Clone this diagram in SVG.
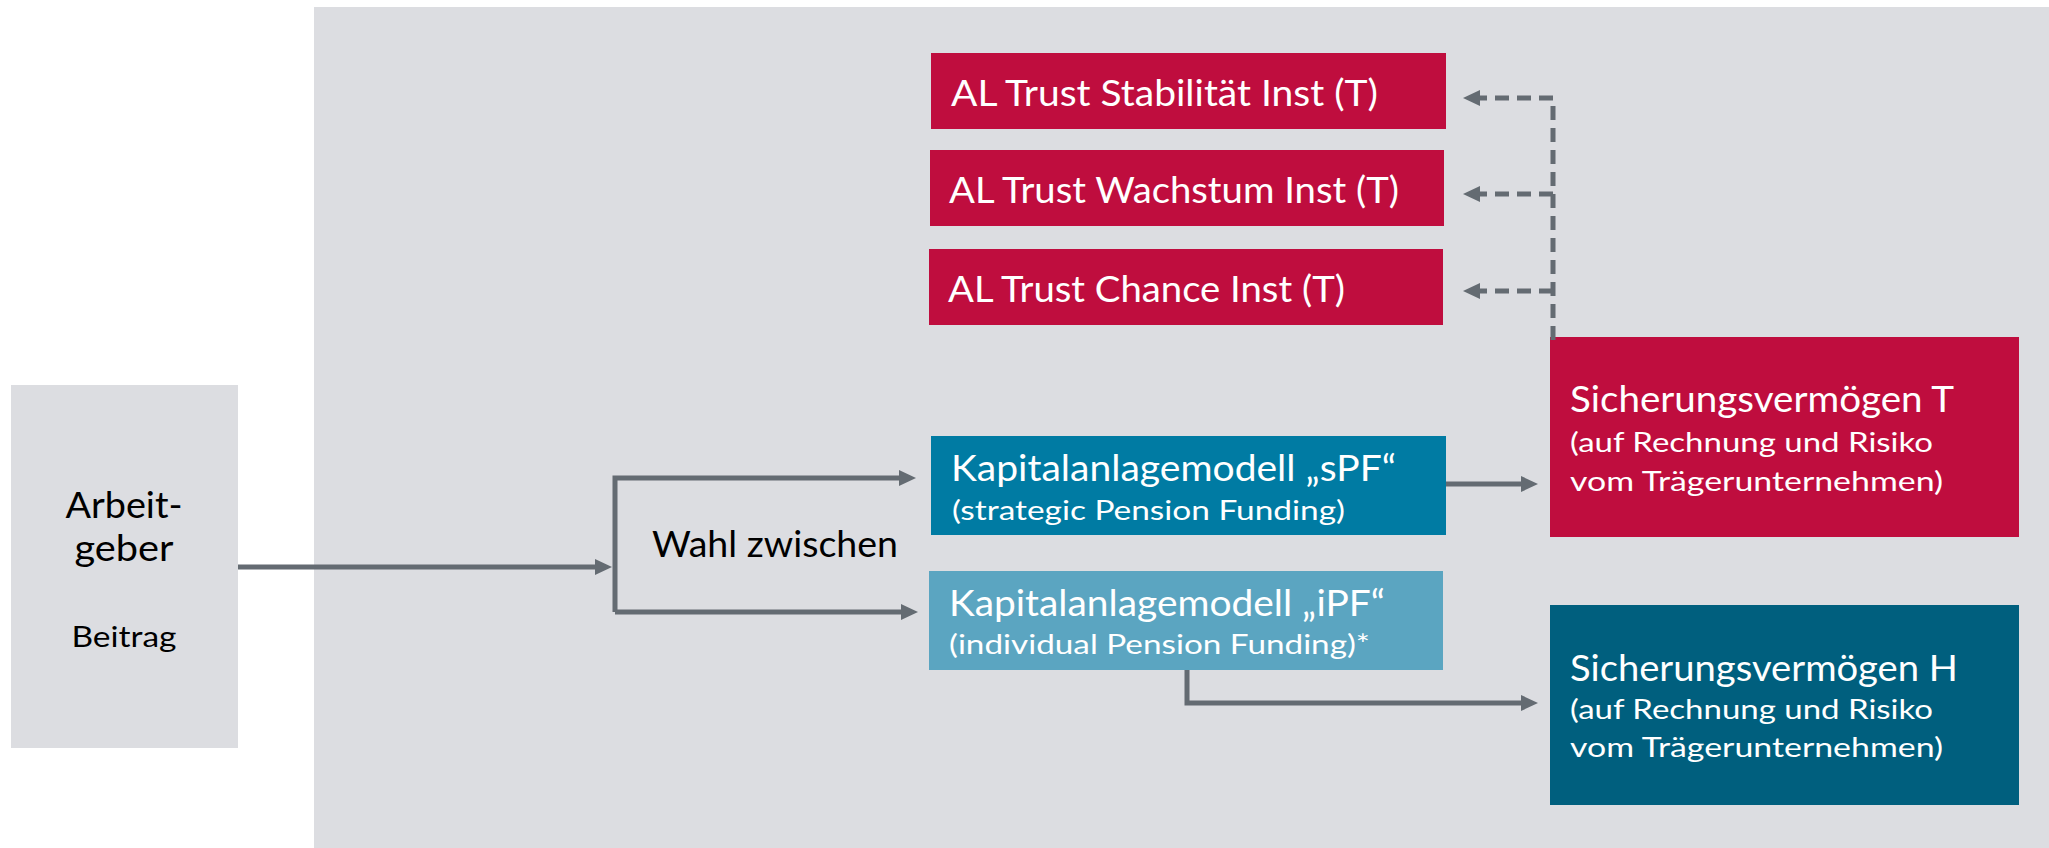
<svg xmlns="http://www.w3.org/2000/svg" width="2049" height="848" viewBox="0 0 2049 848">
<style>
.t{font-family:Lato,"Open Sans","Liberation Sans",sans-serif;}
.w{fill:#ffffff;}
.k{fill:#000000;}
.big{font-size:36px;}
.sm{font-size:27px;}
.con{fill:none;stroke:#646B72;stroke-width:5;}
.dash{stroke-dasharray:14 8;}
</style>
<defs>
<marker id="ah" markerUnits="userSpaceOnUse" markerWidth="17" markerHeight="16" refX="0" refY="8" orient="auto">
<path d="M0,0 L17,8 L0,16 z" fill="#646B72"/>
</marker>
</defs>
<rect x="314" y="7" width="1735" height="841" fill="#DCDDE1"/>
<g id="arbeitgeber">
<rect x="11" y="385" width="227" height="363" fill="#DCDDE1"/>
<text class="t k big" x="124" y="518" text-anchor="middle" textLength="117" lengthAdjust="spacingAndGlyphs">Arbeit-</text>
<text class="t k big" x="124" y="561" text-anchor="middle" textLength="99" lengthAdjust="spacingAndGlyphs">geber</text>
<text class="t k" style="font-size:29px" x="124" y="647" text-anchor="middle" textLength="105" lengthAdjust="spacingAndGlyphs">Beitrag</text>
</g>
<g id="wahl">
<text class="t k big" x="652" y="557" textLength="246" lengthAdjust="spacingAndGlyphs">Wahl zwischen</text>
</g>
<g id="stabilitaet">
<rect x="931" y="53" width="515" height="76" fill="#BF0D3E"/>
<text class="t w big" x="951" y="106" textLength="427" lengthAdjust="spacingAndGlyphs">AL Trust Stabilität Inst (T)</text>
</g>
<g id="wachstum">
<rect x="930" y="150" width="514" height="76" fill="#BF0D3E"/>
<text class="t w big" x="949" y="203" textLength="450" lengthAdjust="spacingAndGlyphs">AL Trust Wachstum Inst (T)</text>
</g>
<g id="chance">
<rect x="929" y="249" width="514" height="76" fill="#BF0D3E"/>
<text class="t w big" x="948" y="302" textLength="397" lengthAdjust="spacingAndGlyphs">AL Trust Chance Inst (T)</text>
</g>
<g id="spf">
<rect x="931" y="436" width="515" height="99" fill="#007BA3"/>
<text class="t w big" x="951" y="481" textLength="445" lengthAdjust="spacingAndGlyphs">Kapitalanlagemodell „sPF“</text>
<text class="t w sm" x="952" y="520" textLength="393" lengthAdjust="spacingAndGlyphs">(strategic Pension Funding)</text>
</g>
<g id="ipf">
<rect x="929" y="571" width="514" height="99" fill="#5BA5C1"/>
<text class="t w big" x="949" y="616" textLength="436" lengthAdjust="spacingAndGlyphs">Kapitalanlagemodell „iPF“</text>
<text class="t w sm" x="949" y="654" textLength="421" lengthAdjust="spacingAndGlyphs">(individual Pension Funding)*</text>
</g>
<g id="sichT">
<rect x="1550" y="337" width="469" height="200" fill="#BF0D3E"/>
<text class="t w big" x="1570" y="412" textLength="384" lengthAdjust="spacingAndGlyphs">Sicherungsvermögen T</text>
<text class="t w sm" x="1570" y="452" textLength="363" lengthAdjust="spacingAndGlyphs">(auf Rechnung und Risiko</text>
<text class="t w sm" x="1570" y="491" textLength="373" lengthAdjust="spacingAndGlyphs">vom Trägerunternehmen)</text>
</g>
<g id="sichH">
<rect x="1550" y="605" width="469" height="200" fill="#005F7E"/>
<text class="t w big" x="1570" y="681" textLength="388" lengthAdjust="spacingAndGlyphs">Sicherungsvermögen H</text>
<text class="t w sm" x="1570" y="719" textLength="363" lengthAdjust="spacingAndGlyphs">(auf Rechnung und Risiko</text>
<text class="t w sm" x="1570" y="757" textLength="373" lengthAdjust="spacingAndGlyphs">vom Trägerunternehmen)</text>
</g>
<g id="connectors">
<path class="con" d="M238 567 H595" marker-end="url(#ah)"/>
<path class="con" d="M615 612 V478 H899" marker-end="url(#ah)"/>
<path class="con" d="M615 612 H901" marker-end="url(#ah)"/>
<path class="con" d="M1446 484 H1521" marker-end="url(#ah)"/>
<path class="con" d="M1187 670 V703 H1521" marker-end="url(#ah)"/>
<path class="con dash" d="M1553 340 V98"/>
<path class="con dash" d="M1553 98 H1480" marker-end="url(#ah)"/>
<path class="con dash" d="M1553 194 H1480" marker-end="url(#ah)"/>
<path class="con dash" d="M1553 291 H1480" marker-end="url(#ah)"/>
</g>
</svg>
